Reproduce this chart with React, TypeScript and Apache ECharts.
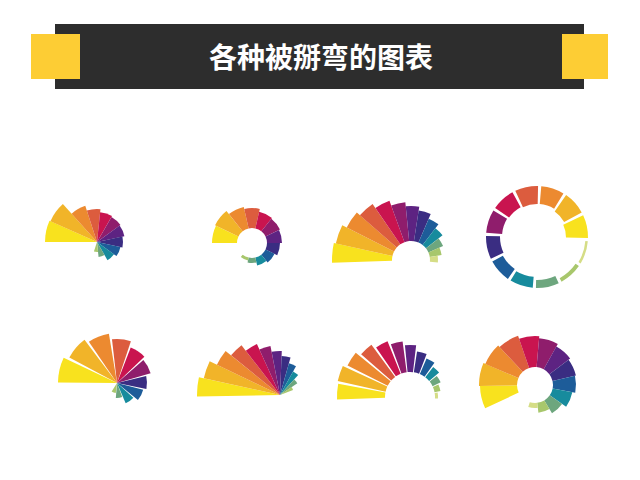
import { useEffect, useRef } from "react";
import * as echarts from "echarts";

const TITLE = "各种被掰弯的图表";

const PALETTE = [
  "#F8E21E", // yellow
  "#F1B429", // gold
  "#EC8A30", // orange
  "#DC5C3E", // red-orange
  "#C9144F", // crimson
  "#8F1D6C", // magenta
  "#5D2382", // purple
  "#3A2D82", // indigo
  "#1D5C99", // blue
  "#178B9D", // teal
  "#6DA67E", // sea green
  "#A8C76C", // light green
  "#D5DD86", // pale green
];

// bar lengths of each bent chart
const chart1Values = [52, 51, 38, 33, 30, 29, 28, 26, 24, 21, 15, 10];
const chart2Values = [25, 26, 22, 20, 17, 16, 15, 13, 10, 8, 5, 3];
const chart3Values = [60, 58, 53, 49, 44, 39, 35, 31, 26, 21, 16, 12, 8];
const chart4Values = [22, 20, 18, 18, 17, 16, 14, 12, 11, 8, 4, 2.5];
const chart5Values = [59, 54, 50, 44, 38, 35, 30, 27, 22, 15, 10];
const chart6Values = [83, 78, 70, 63, 56, 50, 44, 39, 33, 27, 21, 14];
const chart7Values = [48, 49, 45, 40, 35, 31, 27, 21, 17, 13, 9, 6, 3];
const chart8Values = [37, 38, 36, 34, 31, 29, 26, 24, 23, 20, 15, 10, 5];

const ALL = [0, 1, 2, 3, 4, 5, 6, 7, 8, 9, 10, 11, 12];
const NO_PURPLE = [0, 1, 2, 3, 4, 5, 7, 8, 9, 10, 11, 12];

type ChartCfg = {
  values: number[];
  colors: number[];
  center: [number, number];
  inner: number;
  slots: number;
  startAngle: number;
  clockwise: boolean;
  inverse: boolean;
  gap: string;
};

const CHARTS: ChartCfg[] = [
  { values: chart1Values, colors: ALL, center: [97, 242], inner: 0, slots: 15, startAngle: 180, clockwise: true, inverse: false, gap: "0%" },
  { values: chart2Values, colors: ALL, center: [252, 243], inner: 15, slots: 14, startAngle: 180, clockwise: true, inverse: false, gap: "0%" },
  { values: chart3Values, colors: ALL, center: [411, 260], inner: 19, slots: 25, startAngle: 182, clockwise: true, inverse: false, gap: "0%" },
  { values: chart4Values, colors: NO_PURPLE, center: [537, 237], inner: 29, slots: 12, startAngle: -3, clockwise: false, inverse: true, gap: "12%" },
  { values: chart5Values, colors: NO_PURPLE, center: [117, 383], inner: 0, slots: 13, startAngle: 181, clockwise: true, inverse: false, gap: "10%" },
  { values: chart6Values, colors: ALL, center: [280, 395], inner: 0, slots: 27, startAngle: 181, clockwise: true, inverse: false, gap: "0%" },
  { values: chart7Values, colors: ALL, center: [410, 397], inner: 25, slots: 25, startAngle: 183, clockwise: true, inverse: false, gap: "14%" },
  { values: chart8Values, colors: ALL, center: [535, 385], inner: 18, slots: 15, startAngle: 205, clockwise: true, inverse: false, gap: "0%" },
];

function buildOption() {
  const polar: any[] = [];
  const angleAxis: any[] = [];
  const radiusAxis: any[] = [];
  const series: any[] = [];
  const hidden = {
    axisLine: { show: false },
    axisTick: { show: false },
    axisLabel: { show: false },
    splitLine: { show: false },
    splitArea: { show: false },
  };
  CHARTS.forEach((c, i) => {
    const maxV = Math.max(...c.values);
    polar.push({ center: c.center, radius: [c.inner, c.inner + maxV] });
    angleAxis.push({
      polarIndex: i,
      type: "category",
      data: Array.from({ length: c.slots }, (_, k) => String(k)),
      startAngle: c.startAngle,
      clockwise: c.clockwise,
      boundaryGap: true,
      ...hidden,
    });
    radiusAxis.push({
      polarIndex: i,
      type: "value",
      min: 0,
      max: maxV,
      inverse: c.inverse,
      ...hidden,
    });
    series.push({
      type: "bar",
      coordinateSystem: "polar",
      polarIndex: i,
      barCategoryGap: c.gap,
      silent: true,
      data: c.values.map((v, k) => ({
        value: v,
        itemStyle: { color: PALETTE[c.colors[k]] },
      })),
    });
  });

  return {
    animation: false,
    backgroundColor: "#ffffff",
    polar,
    angleAxis,
    radiusAxis,
    series,
    graphic: [
      { type: "rect", shape: { x: 55, y: 24, width: 529, height: 65 }, style: { fill: "#2D2D2D" }, z: 1 },
      { type: "rect", shape: { x: 31, y: 34, width: 49, height: 45 }, style: { fill: "#FDCD34" }, z: 2 },
      { type: "rect", shape: { x: 562, y: 34, width: 46, height: 45 }, style: { fill: "#FDCD34" }, z: 2 },
      {
        type: "text",
        x: 321,
        y: 56,
        z: 3,
        style: {
          text: TITLE,
          fill: "#ffffff",
          font: 'bold 28px "Noto Sans CJK SC"',
          fontSize: 28,
          fontWeight: "bold",
          fontFamily: "Noto Sans CJK SC",
          align: "center",
          verticalAlign: "middle",
          textAlign: "center",
          textVerticalAlign: "middle",
        },
      },
    ],
  };
}

export default function App() {
  const ref = useRef<HTMLDivElement>(null);
  useEffect(() => {
    if (!ref.current) return;
    const chart = echarts.init(ref.current, undefined, { renderer: "svg" });
    chart.setOption(buildOption() as any);
    return () => chart.dispose();
  }, []);
  return (
    <div
      ref={ref}
      style={{ position: "fixed", left: 0, top: 0, width: 640, height: 480, background: "#fff" }}
    />
  );
}
